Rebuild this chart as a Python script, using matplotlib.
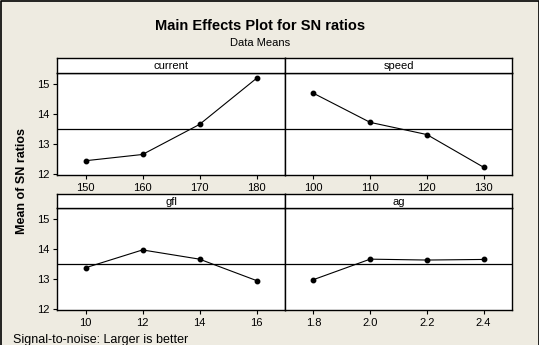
import matplotlib

matplotlib.use("Agg")
import matplotlib.pyplot as plt
import numpy as np

# factor levels and mean SN ratios
factors = ["current", "speed", "gfl", "ag"]
current_levels = ["150", "160", "170", "180"]
current_sn = [12.43, 12.64, 13.65, 15.20]
speed_levels = ["100", "110", "120", "130"]
speed_sn = [14.70, 13.72, 13.31, 12.21]
gfl_levels = ["10", "12", "14", "16"]
gfl_sn = [13.37, 13.97, 13.66, 12.94]
ag_levels = ["1.8", "2.0", "2.2", "2.4"]
ag_sn = [12.97, 13.66, 13.63, 13.65]
yticks = [12, 13, 14, 15]

levels = [current_levels, speed_levels, gfl_levels, ag_levels]
values = [current_sn, speed_sn, gfl_sn, ag_sn]
grand_mean = np.mean(np.concatenate([np.array(v) for v in values]))

plt.rcParams["font.family"] = ["Liberation Sans", "DejaVu Sans"]

W, H = 539, 345
BG = "#EEEBE1"
fig = plt.figure(figsize=(W / 100, H / 100), dpi=100, facecolor=BG)


def px_axes(x0, y0, x1, y1):
    # pixel box (top-left origin) -> figure axes
    return fig.add_axes([x0 / W, (H - y1) / H, (x1 - x0) / W, (y1 - y0) / H])


# panel boxes: (x0, x1, strip_top, data_top, data_bottom)
boxes = [
    (57, 285, 58, 73, 175),
    (285, 512, 58, 73, 175),
    (57, 285, 194, 208, 310),
    (285, 512, 194, 208, 310),
]

for i, (name, lv, vals) in enumerate(zip(factors, levels, values)):
    x0, x1, st, dt, db = boxes[i]
    ax = px_axes(x0, dt, x1, db)
    xs = np.arange(len(lv))
    ax.axhline(grand_mean, color="black", lw=0.9)
    ax.plot(xs, vals, "-o", color="black", lw=0.8, ms=3.2)
    ax.set_xlim(-0.5, len(lv) - 0.5)
    ax.set_ylim(11.95, 15.38)
    ax.set_xticks(xs)
    ax.set_xticklabels(lv)
    ax.set_yticks(yticks)
    ax.tick_params(direction="out", length=3, width=0.8, labelsize=8,
                   colors="black", pad=2.5)
    if i % 2 == 1:
        ax.tick_params(axis="y", left=False, labelleft=False)
    for s in ax.spines.values():
        s.set_linewidth(1.0)
    ax.set_facecolor("white")

    sax = px_axes(x0, st, x1, dt)
    sax.set_xticks([])
    sax.set_yticks([])
    sax.set_facecolor("white")
    for s in sax.spines.values():
        s.set_linewidth(1.0)
    sax.text(0.5, 0.45, name, ha="center", va="center", fontsize=8,
             transform=sax.transAxes)

fig.text(260 / W, 1 - 26 / H, "Main Effects Plot for SN ratios", ha="center",
         va="center", fontsize=10.5, fontweight="bold")
fig.text(260 / W, 1 - 43 / H, "Data Means", ha="center", va="center", fontsize=8)
fig.text(22 / W, 1 - 181 / H, "Mean of SN ratios", ha="center", va="center",
         rotation=90, fontsize=9, fontweight="bold")
fig.text(13 / W, 1 - 340 / H, "Signal-to-noise: Larger is better", ha="left",
         va="center", fontsize=9)

# thin frame round the image
fig.add_artist(plt.Line2D([0.5 / W, 0.5 / W, 1 - 0.5 / W, 1 - 0.5 / W],
                          [0, 1 - 0.5 / H, 1 - 0.5 / H, 0],
                          color="black", lw=1.2, transform=fig.transFigure))

fig.savefig("out.png", dpi=100, facecolor=BG)
